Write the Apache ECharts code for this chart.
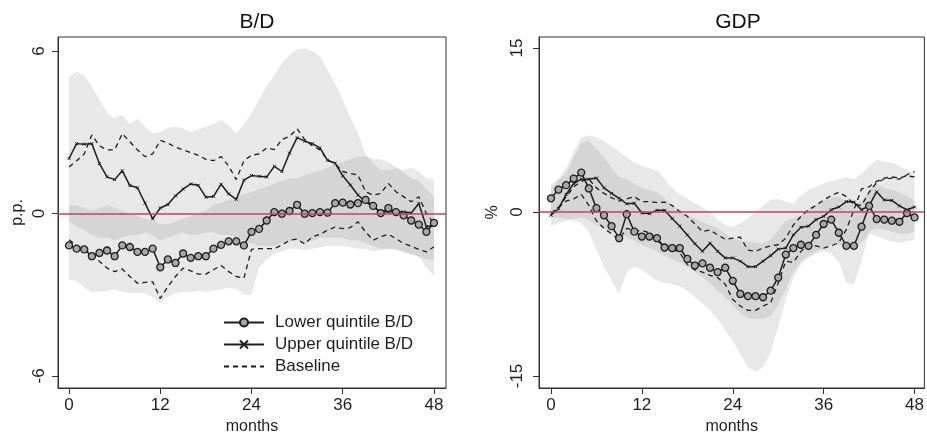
<!DOCTYPE html>
<html>
<head>
<meta charset="utf-8">
<script src="https://cdn.jsdelivr.net/npm/echarts@6/dist/echarts.min.js"></script>
<style>
  html, body { margin: 0; padding: 0; background: #fff; }
  #chart { width: 927px; height: 441px; }
</style>
</head>
<body>
<div id="chart"></div>
<script>
// months since the shock
var months = [0,1,2,3,4,5,6,7,8,9,10,11,12,13,14,15,16,17,18,19,20,21,22,23,24,
              25,26,27,28,29,30,31,32,33,34,35,36,37,38,39,40,41,42,43,44,45,46,47,48];
var xTicks = [0, 12, 24, 36, 48];
var bdTicks = [-6, 0, 6];
var gdpTicks = [-15, 0, 15];

// B/D panel (p.p.)
var bdLower = [-1.18,-1.3,-1.33,-1.58,-1.46,-1.37,-1.58,-1.18,-1.24,-1.42,
               -1.42,-1.3,-1.99,-1.7,-1.83,-1.48,-1.64,-1.58,-1.58,-1.3,
               -1.16,-1.03,-1.03,-1.18,-0.68,-0.57,-0.26,0.05,-0.01,0.09,
               0.32,-0.01,0.01,0.05,0.03,0.38,0.4,0.33,0.38,0.5,
               0.28,0.01,0.2,0.05,-0.07,-0.26,-0.41,-0.68,-0.35];
var bdUpper = [2.03,2.58,2.56,2.58,1.84,1.35,1.25,1.58,1.03,0.95,
               0.38,-0.2,0.2,0.33,0.65,0.9,1.09,1.04,0.6,0.63,
               1.08,0.72,0.52,1.23,1.4,1.37,1.35,1.74,1.55,2.23,
               2.8,2.67,2.58,2.42,1.96,1.86,1.39,1.05,0.68,0.43,
               0.25,0.06,0.06,0.06,0.06,0.02,0.37,-0.49,-0.43];
var bdBaseHi = [1.72,1.95,2.2,2.9,2.5,2.35,2.35,2.95,2.65,2.35,
                2.1,2.2,2.7,2.6,2.45,2.35,2.25,2.15,2.0,1.95,
                2.1,1.75,1.25,1.95,2.15,2.2,2.42,2.36,2.73,2.85,
                3.13,2.73,2.5,2.35,1.98,1.83,1.55,1.48,1.42,0.8,
                0.68,0.74,1.11,0.8,0.62,0.43,0.62,0.0,-0.37];
var bdBaseLo = [-0.97,-1.18,-1.33,-1.52,-1.77,-2.02,-2.15,-2.05,-2.33,-2.58,
                -2.55,-2.52,-3.14,-2.7,-2.33,-2.02,-2.12,-2.24,-2.24,-2.08,
                -1.92,-2.15,-2.33,-2.39,-1.33,-1.3,-1.3,-1.3,-1.17,-0.99,
                -0.95,-1.13,-0.86,-0.77,-0.62,-0.5,-0.56,-0.52,-0.31,-0.68,
                -0.99,-0.86,-0.77,-0.93,-1.11,-1.21,-1.33,-1.42,-1.23];
var bdHiBandTop = [5.05,5.25,5.1,4.7,4.2,3.7,3.5,3.65,3.3,3.5,
                   3.2,2.95,3.0,3.15,3.2,3.15,3.0,3.1,3.2,3.3,
                   3.45,3.25,2.95,3.3,3.7,4.2,4.7,5.1,5.55,5.85,
                   6.05,6.1,6.0,5.8,5.3,4.8,4.2,3.55,2.95,2.2,
                   1.85,1.6,1.6,1.7,1.6,1.7,1.55,1.3,1.25];
var bdHiBandBot = [-0.3,-0.5,-0.6,-0.8,-0.9,-0.9,-1.0,-0.9,-0.8,-0.8,
                   -0.7,-0.8,-1.0,-0.9,-0.8,-0.7,-0.8,-0.8,-0.7,-0.7,
                   -0.8,-0.8,-0.9,-1.0,-1.1,-1.2,-1.2,-1.2,-1.1,-1.0,
                   -1.0,-1.1,-1.0,-0.9,-0.9,-0.9,-0.9,-1.0,-1.0,-1.1,
                   -1.2,-1.3,-1.3,-1.3,-1.4,-1.5,-1.6,-2.0,-2.3];
var bdLoBandTop = [0.3,0.3,0.2,0.1,0.2,0.3,0.2,0.1,0.0,-0.1,
                   -0.2,-0.3,-0.4,-0.4,-0.3,-0.2,-0.1,0.0,0.1,0.3,
                   0.4,0.5,0.6,0.7,0.8,0.9,1.0,1.1,1.2,1.3,
                   1.3,1.4,1.5,1.6,1.7,1.8,1.9,2.0,2.1,2.1,
                   2.0,2.0,1.9,1.7,1.5,1.3,1.2,0.9,0.6];
var bdLoBandBot = [-2.45,-2.5,-2.75,-2.9,-2.9,-2.85,-2.8,-2.9,-2.95,-2.95,
                   -2.95,-3.1,-3.3,-3.1,-2.95,-2.9,-2.9,-2.85,-2.9,-2.85,
                   -2.8,-2.75,-2.8,-3.0,-3.0,-2.0,-1.7,-1.5,-1.4,-1.3,
                   -1.3,-1.35,-1.3,-1.25,-1.2,-1.2,-1.2,-1.25,-1.3,-1.3,
                   -1.4,-1.35,-1.3,-1.35,-1.45,-1.5,-1.6,-1.7,-1.7];

// GDP panel (%)
var gdpLower = [1.25,2.05,2.45,3.05,3.6,2.15,0.35,-0.3,-1.3,-2.4,
                -0.2,-1.8,-2.25,-2.25,-2.4,-3.25,-3.3,-3.3,-4.3,-4.9,
                -4.7,-5.1,-5.5,-5.1,-6.3,-7.5,-7.7,-7.7,-7.8,-7.2,
                -6.0,-3.9,-3.3,-3.0,-3.1,-2.1,-1.1,-0.7,-1.9,-3.1,
                -3.1,-1.35,0.55,-0.65,-0.7,-0.8,-0.9,-0.1,-0.5];
var gdpUpper = [-0.3,0.3,1.6,2.6,3.0,3.0,3.1,2.2,1.7,1.25,
                0.75,0.8,-0.1,-0.15,0.15,0.15,-0.6,-1.3,-2.1,-2.9,
                -3.6,-2.85,-3.6,-4.2,-4.2,-4.5,-5.0,-5.0,-4.5,-4.0,
                -3.4,-3.3,-2.1,-1.4,-1.3,-0.7,-0.4,0.2,0.45,0.95,
                0.9,0.2,0.55,1.85,1.1,1.05,0.55,0.2,0.45];
var gdpBaseHi = [-0.2,0.4,1.4,2.3,2.8,3.0,2.2,1.7,1.3,1.0,
                 1.2,1.4,0.95,0.95,0.85,0.9,0.6,0.05,-0.4,-1.1,
                 -1.8,-1.65,-2.1,-2.5,-2.4,-2.3,-3.5,-3.6,-3.3,-3.1,
                 -3.0,-2.4,-1.2,-0.4,0.2,0.6,1.1,1.5,1.8,1.4,
                 0.7,0.6,1.8,2.7,3.0,3.1,3.0,3.4,3.7];
var gdpBaseLo = [-0.1,0.4,1.0,1.2,1.6,0.6,-0.8,-1.5,-2.0,-2.5,
                 -1.5,-1.7,-1.7,-1.9,-2.6,-3.2,-3.4,-3.7,-4.8,-5.3,
                 -5.5,-5.8,-6.0,-6.6,-8.0,-8.6,-9.0,-9.0,-8.6,-8.3,
                 -6.5,-4.5,-4.6,-3.6,-3.0,-3.1,-3.3,-3.1,-2.8,-1.6,
                 0.2,2.1,2.3,2.8,3.1,3.2,3.1,3.3,3.2];
var gdpHiBandTop = [2.0,3.0,4.0,5.5,6.8,7.0,6.8,6.5,6.0,5.5,
                    5.0,4.5,4.2,4.0,3.8,3.0,2.2,1.6,1.2,0.8,
                    0.4,0.0,-0.7,-1.2,-1.4,-1.0,-0.6,0.0,0.6,1.1,
                    1.2,0.9,0.8,1.5,2.0,2.3,2.6,2.8,3.0,3.2,
                    3.0,3.5,4.2,4.8,4.6,4.5,4.2,3.8,3.5];
var gdpHiBandBot = [-1.3,-1.0,-0.8,-0.6,-0.5,-0.8,-1.2,-1.5,-1.8,-2.0,
                    -2.3,-2.6,-3.0,-3.3,-3.6,-4.0,-4.3,-4.6,-5.0,-5.5,
                    -6.0,-6.5,-7.2,-7.8,-8.5,-9.2,-9.7,-9.8,-9.8,-9.5,
                    -8.5,-7.0,-5.5,-4.5,-4.0,-3.6,-3.3,-3.0,-3.0,-3.2,
                    -3.2,-2.8,-2.0,-2.2,-2.5,-2.7,-2.8,-2.7,-2.5];
var gdpLoBandTop = [2.5,3.0,3.5,5.0,6.3,6.5,5.8,5.0,4.0,3.2,
                    3.0,2.6,2.2,2.0,1.8,1.2,0.6,0.0,-0.3,-0.6,
                    -0.9,-1.2,-1.5,-2.0,-2.4,-2.6,-2.7,-2.8,-2.9,-2.5,
                    -1.7,-0.8,-0.6,-0.3,0.3,0.6,1.0,1.3,1.4,1.0,
                    0.8,1.0,2.0,2.6,2.2,2.0,1.8,1.5,1.0];
var gdpLoBandBot = [-0.5,-0.5,-0.6,-0.8,-1.0,-1.8,-3.5,-5.0,-6.3,-7.5,
                    -5.5,-5.0,-5.3,-5.8,-6.3,-6.5,-6.6,-6.8,-7.2,-7.8,
                    -8.4,-9.0,-9.8,-10.8,-11.8,-13.0,-14.2,-14.6,-14.2,-12.8,
                    -10.5,-8.0,-6.0,-4.8,-4.2,-3.8,-3.6,-3.8,-4.6,-6.5,
                    -6.6,-4.5,-1.8,-1.5,-1.6,-1.8,-2.0,-2.0,-1.8];

var ink = '#1e1e1e';
var font = 'Liberation Sans, Arial, sans-serif';
var bandFill = 'rgba(140,140,140,0.2)';
var crossSymbol = 'path://M0,0L10,10M10,0L0,10';

function pairs(vals) {
    return months.map(function (m, i) { return [m, vals[i]]; });
}

// confidence band drawn as one polygon through the axis scales
function band(idx, lo, hi) {
    return {
        type: 'custom',
        xAxisIndex: idx,
        yAxisIndex: idx,
        silent: true,
        z: 1,
        clip: true,
        data: months.map(function (m, i) { return [m, lo[i], hi[i]]; }),
        encode: { x: 0, y: [1, 2] },
        renderItem: function (params, api) {
            if (params.dataIndex !== 0) return;
            var pts = [];
            for (var i = 0; i < months.length; i++) pts.push(api.coord([months[i], hi[i]]));
            for (var j = months.length - 1; j >= 0; j--) pts.push(api.coord([months[j], lo[j]]));
            return { type: 'polygon', shape: { points: pts }, style: { fill: bandFill } };
        }
    };
}

function lowerLine(idx, vals, withZero) {
    var s = {
        name: 'Lower quintile B/D',
        type: 'line',
        xAxisIndex: idx,
        yAxisIndex: idx,
        data: pairs(vals),
        z: 4,
        symbol: 'circle',
        symbolSize: 7,
        showAllSymbol: true,
        lineStyle: { color: ink, width: 1.5 },
        itemStyle: { color: '#a8a8a8', borderColor: ink, borderWidth: 1.3 }
    };
    if (withZero) {
        s.markLine = {
            silent: true,
            symbol: 'none',
            label: { show: false },
            lineStyle: { color: '#c4406c', width: 1.5, type: 'solid' },
            data: [{ yAxis: 0 }]
        };
    }
    return s;
}

function upperLine(idx, vals) {
    return {
        name: 'Upper quintile B/D',
        type: 'line',
        xAxisIndex: idx,
        yAxisIndex: idx,
        data: pairs(vals),
        z: 4,
        symbol: crossSymbol,
        symbolSize: 3,
        showAllSymbol: true,
        lineStyle: { color: ink, width: 1.5 },
        itemStyle: { color: ink, borderColor: ink, borderWidth: 1 }
    };
}

function baseLine(idx, vals) {
    return {
        name: 'Baseline',
        type: 'line',
        xAxisIndex: idx,
        yAxisIndex: idx,
        data: pairs(vals),
        z: 3,
        symbol: 'none',
        lineStyle: { color: ink, width: 1.3, type: [5, 4] },
        itemStyle: { color: ink }
    };
}

function xAxisFor(idx, min, max) {
    return {
        type: 'value',
        gridIndex: idx,
        min: min,
        max: max,
        name: 'months',
        nameLocation: 'middle',
        nameGap: 24,
        nameTextStyle: { color: ink, fontSize: 16, fontFamily: font },
        splitLine: { show: false },
        axisLine: { show: true, onZero: false, lineStyle: { color: '#333' } },
        axisTick: { show: true, length: 6, customValues: xTicks, lineStyle: { color: '#333' } },
        axisLabel: { customValues: xTicks, margin: 9, fontSize: 17, color: ink, fontFamily: font }
    };
}

function yAxisFor(idx, min, max, ticks, name, nameGap, margin) {
    return {
        type: 'value',
        gridIndex: idx,
        min: min,
        max: max,
        name: name,
        nameLocation: 'middle',
        nameRotate: 90,
        nameGap: nameGap,
        nameTextStyle: { color: ink, fontSize: 16, fontFamily: font },
        splitLine: { show: false },
        axisLine: { show: true, onZero: false, lineStyle: { color: '#333' } },
        axisTick: { show: true, length: 6, customValues: ticks, lineStyle: { color: '#333' } },
        axisLabel: { customValues: ticks, rotate: 90, margin: margin, fontSize: 17, color: ink, fontFamily: font }
    };
}

var chart = echarts.init(document.getElementById('chart'), null, { renderer: 'canvas' });

var option = {
    backgroundColor: '#fff',
    animation: false,
    title: [
        { text: 'B/D', left: 252, top: 7, textAlign: 'center',
          textStyle: { fontSize: 21, fontWeight: 'normal', color: '#111', fontFamily: font } },
        { text: 'GDP', left: 733, top: 7, textAlign: 'center',
          textStyle: { fontSize: 21, fontWeight: 'normal', color: '#111', fontFamily: font } }
    ],
    legend: {
        data: [
            'Lower quintile B/D',
            'Upper quintile B/D',
            { name: 'Baseline', itemStyle: { opacity: 0 } }
        ],
        orient: 'vertical',
        left: 218,
        top: 309,
        itemWidth: 40,
        itemHeight: 10,
        itemGap: 5,
        selectedMode: false,
        textStyle: { fontSize: 17, color: ink, fontFamily: font, padding: [0, 0, 0, 6] }
    },
    grid: [
        { left: 58, top: 37, width: 388, height: 351, show: true, borderColor: '#333', borderWidth: 1, backgroundColor: 'transparent' },
        { left: 539, top: 37, width: 387, height: 351, show: true, borderColor: '#333', borderWidth: 1, backgroundColor: 'transparent' }
    ],
    xAxis: [
        xAxisFor(0, -1.45, 49.58),
        xAxisFor(1, -1.58, 49.3)
    ],
    yAxis: [
        yAxisFor(0, -6.45, 6.52, bdTicks, 'p.p.', 32, 10),
        yAxisFor(1, -16.1, 16.0, gdpTicks, '%', 38, 13)
    ],
    series: [
        band(0, bdHiBandBot, bdHiBandTop),
        band(0, bdLoBandBot, bdLoBandTop),
        baseLine(0, bdBaseHi),
        baseLine(0, bdBaseLo),
        upperLine(0, bdUpper),
        lowerLine(0, bdLower, true),

        band(1, gdpHiBandBot, gdpHiBandTop),
        band(1, gdpLoBandBot, gdpLoBandTop),
        baseLine(1, gdpBaseHi),
        baseLine(1, gdpBaseLo),
        upperLine(1, gdpUpper),
        lowerLine(1, gdpLower, true)
    ]
};

chart.setOption(option);
</script>
</body>
</html>
